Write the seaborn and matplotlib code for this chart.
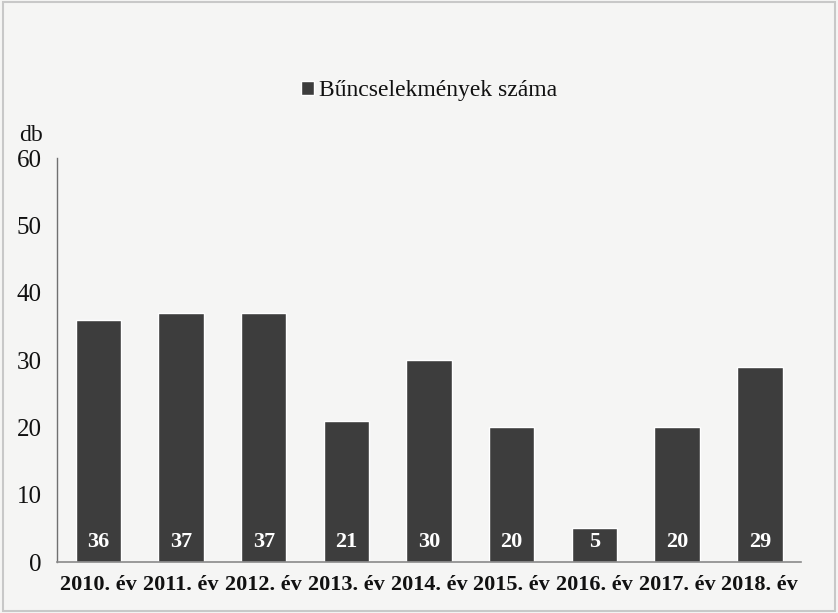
import numpy as np
import pandas as pd
import matplotlib
matplotlib.use("Agg")
import matplotlib.pyplot as plt
import seaborn as sns

# data
years = ['2010. év', '2011. év', '2012. év', '2013. év', '2014. év',
         '2015. év', '2016. év', '2017. év', '2018. év']
counts = [36, 37, 37, 21, 30, 20, 5, 20, 29]
series_name = 'Bűncselekmények száma'

df = pd.DataFrame({'ev': years, 'db': counts})

sns.set_style('white')
plt.rcParams['font.family'] = ['Liberation Serif', 'DejaVu Serif']

bar_col = '#3d3d3d'
bg = '#f5f5f4'

fig = plt.figure(figsize=(8.38, 6.13), dpi=100)
fig.patch.set_facecolor(bg)
ax = fig.add_axes([0.068, 0.083, 0.888, 0.659])
ax.set_facecolor('none')

sns.barplot(data=df, x='ev', y='db', color=bar_col, width=0.55,
            saturation=1, ax=ax, label=series_name)

ax.set_ylim(0, 60)
ax.set_xlim(-0.5, len(years) - 0.5)
ax.set_yticks(range(0, 61, 10))
ax.set_xlabel('')
ax.set_ylabel('')

for s in ['top', 'right']:
    ax.spines[s].set_visible(False)
ax.spines['left'].set_color('#707070')
ax.spines['bottom'].set_color('#8a8a8a')
ax.spines['left'].set_linewidth(1.0)
ax.spines['bottom'].set_linewidth(1.2)

ax.tick_params(axis='y', direction='in', length=5, color='#707070',
               labelsize=18, pad=11, labelcolor='#111111')
ax.tick_params(axis='x', length=0, labelsize=16, pad=9, labelcolor='#111111')
for lbl in ax.get_xticklabels():
    lbl.set_fontweight('bold')

# value labels at the bottom of each bar
for i, v in enumerate(counts):
    ax.text(i, 3.0, str(v), ha='center', va='center', color='white',
            fontsize=16, fontweight='bold')

ax.text(-0.035, 1.03, 'db', transform=ax.transAxes, ha='center', va='bottom',
        fontsize=17, color='#111111')

leg = ax.legend(loc='upper center', bbox_to_anchor=(0.5, 1.245), frameon=False,
                fontsize=17, handlelength=0.55, handleheight=0.55,
                handletextpad=0.2, labelcolor='#111111')

# faint frame around the scanned picture
fig.add_artist(plt.Rectangle((0.004, 0.004), 0.992, 0.992, transform=fig.transFigure,
                             fill=False, edgecolor='#c8c8c8', linewidth=1.5))

fig.savefig('out.png', dpi=100, facecolor=bg)
